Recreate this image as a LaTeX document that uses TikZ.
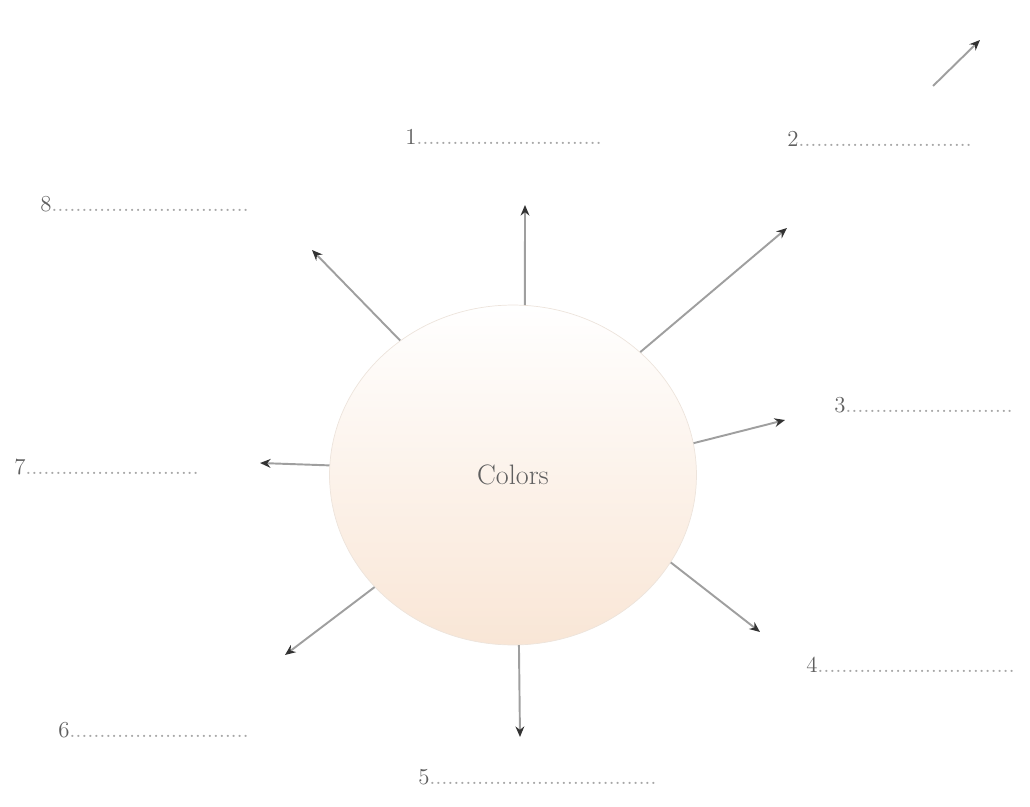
\documentclass[tikz,border=0pt]{standalone}
\usepackage{amsmath}
\usepackage{tikz}
\usetikzlibrary{arrows.meta,shapes.geometric}

\definecolor{peach}{RGB}{249,230,214}
\definecolor{peachmid}{RGB}{254,248,244}
\definecolor{inkgray}{RGB}{95,95,95}

\newcommand{\blankline}[1]{{\color{gray!70}\makebox[#1]{\leaders\hbox to 3.4pt{\hss.\hss}\hfill}}}

\begin{document}
\begin{tikzpicture}[x=0.02cm, y=-0.02cm,
    arr/.style={line width=1.1pt, gray!75, -{Stealth[length=6pt,width=5pt,black!80]}},
    lbl/.style={anchor=base west, inner sep=0pt, text=inkgray, font=\fontsize{13}{15}\selectfont}]
    \useasboundingbox (0,0) rectangle (1030,807);

    % Circle
    \node[ellipse, minimum width=7.34cm, minimum height=6.8cm, inner sep=0pt,
          draw=peach!80!gray!60, top color=white, middle color=peachmid, bottom color=peach,
          text=inkgray, font=\fontsize{16}{19}\selectfont] (colors) at (513,475) {Colors};

    % Arrow ends
    \coordinate (e1) at (525,205);
    \coordinate (e2) at (787,228);
    \coordinate (e3) at (785,420);
    \coordinate (e4) at (760,632);
    \coordinate (e5) at (520,737);
    \coordinate (e6) at (285,655);
    \coordinate (e7) at (260,463);
    \coordinate (e8) at (312,250);
    \coordinate (s9) at (933,86);
    \coordinate (e9) at (980,40);

    % Arrows
    \draw[arr] (colors.86) -- (e1);
    \draw[arr] (colors.44) -- (e2);
    \draw[arr] (colors.10) -- (e3);
    \draw[arr] (colors.-29) -- (e4);
    \draw[arr] (colors.-88) -- (e5);
    \draw[arr] (colors.219) -- (e6);
    \draw[arr] (colors.177) -- (e7);
    \draw[arr] (colors.130) -- (e8);
    \draw[arr] (s9) -- (e9);

    % Labels
    \node[lbl] (l1) at (405,145) {1\blankline{3.74cm}};
    \node[lbl] (l2) at (787,147) {2\blankline{3.5cm}};
    \node[lbl] (l3) at (834,412) {3\blankline{3.44cm}};
    \node[lbl] (l4) at (806,672) {4\blankline{4cm}};
    \node[lbl] (l5) at (418,784) {5\blankline{4.6cm}};
    \node[lbl] (l6) at (58,737) {6\blankline{3.7cm}};
    \node[lbl] (l7) at (14,474) {7\blankline{3.5cm}};
    \node[lbl] (l8) at (40,212) {8\blankline{4.06cm}};
\end{tikzpicture}
\end{document}
